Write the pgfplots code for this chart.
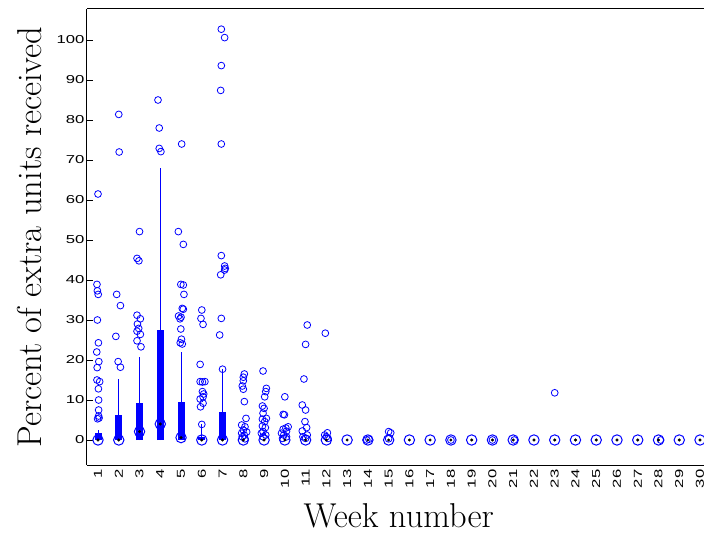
\documentclass[border=0pt]{standalone}
\usepackage{graphicx}
\usepackage{pgfplots}
\pgfplotsset{compat=1.18}
\usepackage{fontspec}
\newfontfamily\tickfont{Liberation Sans}
\newcommand\tl[1]{\scalebox{1.45}[1]{\tickfont\fontsize{11.5}{13}\selectfont #1}}
\begin{document}
\begin{tikzpicture}
\path[use as bounding box] (-87pt,-68pt) rectangle (617pt,465pt);
\clip (-87pt,-68pt) rectangle (617pt,465pt);
\begin{axis}[
  at={(0pt,0pt)}, anchor=south west,
  scale only axis,
  width=623.4pt, height=456pt,
  xmin=0.47, xmax=30.5,
  ymin=-6.25, ymax=107.75,
  axis x line*=box, axis y line*=left,
  axis line style={black, line width=1pt},
  xtick={1,...,30},
  xticklabels={\tl{1},\tl{2},\tl{3},\tl{4},\tl{5},\tl{6},\tl{7},\tl{8},\tl{9},\tl{10},
    \tl{11},\tl{12},\tl{13},\tl{14},\tl{15},\tl{16},\tl{17},\tl{18},\tl{19},\tl{20},
    \tl{21},\tl{22},\tl{23},\tl{24},\tl{25},\tl{26},\tl{27},\tl{28},\tl{29},\tl{30}},
  ytick={0,10,...,100},
  yticklabels={\tl{0},\tl{10},\tl{20},\tl{30},\tl{40},\tl{50},\tl{60},\tl{70},\tl{80},\tl{90},\tl{100}},
  tick align=inside,
  major tick length=6pt,
  major x tick style={draw=none},
  major y tick style={black, line width=0.8pt},
  xticklabel style={rotate=90, anchor=east, xshift=-1pt},
  xticklabel pos=bottom,
  yticklabel style={xshift=1pt},
  xlabel={Week number},
  ylabel={Percent of extra units received},
  xlabel style={at={(axis description cs:0.5,0)}, anchor=center, yshift=-51pt, font=\fontsize{34.5}{40}\selectfont},
  ylabel style={at={(axis description cs:0,0.5)}, anchor=center, yshift=57pt, font=\fontsize{34.5}{40}\selectfont},
  unbounded coords=jump,
  clip=false,
]
% whiskers
\addplot[blue, line width=1pt] coordinates {
(1,0) (1,2.5) (1,nan)
(2,0) (2,15.2) (2,nan)
(3,0) (3,20.8) (3,nan)
(4,0) (4,67.9) (4,nan)
(5,0) (5,22.0) (5,nan)
(6,0) (6,3.9) (6,nan)
(7,0) (7,17.7) (7,nan)
};
% boxes (q1 to q3)
\addplot[blue, line width=7pt] coordinates {
(1,0) (1,1.8) (1,nan)
(2,0) (2,6.3) (2,nan)
(3,0) (3,9.2) (3,nan)
(4,0) (4,27.5) (4,nan)
(5,0) (5,9.4) (5,nan)
(6,0) (6,0.8) (6,nan)
(7,0) (7,7.1) (7,nan)
};
% outliers
\addplot[only marks, mark=o, mark size=3.4pt, blue, mark options={line width=0.8pt}] coordinates {
(1.00,61.5) (0.95,38.9) (0.97,37.3) (1.01,36.4) (0.97,30.0) (1.02,24.3) (0.94,22.0)
(1.04,19.6) (0.96,18.1) (0.95,15.0) (1.08,14.6) (1.02,12.8) (1.03,10.0) (1.03,7.5)
(1.03,6.0) (0.98,5.3) (1.05,5.5)
(2.00,81.4) (2.02,72.0) (1.90,36.4) (2.08,33.6) (1.86,25.9) (1.97,19.6) (2.08,18.2)
(3.00,52.1) (2.88,45.4) (2.97,44.8) (2.88,31.2) (3.04,30.3) (2.90,29.0) (2.96,27.9)
(2.88,27.2) (3.04,26.4) (2.88,24.8) (3.07,23.3)
(3.89,85.0) (3.95,78.0) (3.95,72.9) (4.03,72.1)
(5.03,74.0) (4.87,52.1) (5.11,48.9) (4.99,38.9) (5.11,38.75) (5.14,36.4) (5.06,32.9)
(5.11,32.7) (4.88,31.0) (5.00,30.7) (4.95,30.3) (4.99,27.75) (5.02,25.2) (4.96,24.3) (5.06,24.0)
(6.00,32.5) (5.96,30.4) (6.06,28.9) (5.92,18.9) (5.92,14.6) (6.15,14.6) (6.03,14.5)
(6.03,12.1) (6.09,11.5) (6.06,10.8) (5.92,10.25) (6.06,9.2) (5.94,8.3) (6.00,3.9)
(6.94,102.7) (7.10,100.6) (6.94,93.6) (6.91,87.4) (6.94,74.0) (6.94,46.1) (7.10,43.5)
(7.13,42.9) (7.10,42.5) (6.91,41.3) (6.94,30.4) (6.86,26.25) (7.00,17.7)
(8.05,16.5) (8.00,15.7) (8.00,14.8) (7.95,13.5) (8.00,12.7) (8.05,9.6) (8.13,5.4)
(7.92,3.75) (8.08,3.3) (8.00,2.5) (8.16,2.0) (7.92,1.7) (8.05,1.2) (7.95,0.8) (8.08,0.3)
(8.95,17.25) (9.11,12.9) (9.08,12.1) (9.03,10.8) (8.92,8.5) (9.00,7.9) (8.95,6.7)
(9.11,5.4) (8.92,5.2) (9.03,4.6) (8.92,3.5) (9.06,3.1) (8.95,2.1) (8.87,1.7) (9.08,1.25) (8.95,0.8)
(10.00,10.8) (9.92,6.4) (9.98,6.3) (10.16,3.3) (10.05,3.0) (9.92,2.7) (10.08,2.2)
(9.84,1.7) (9.95,1.25) (10.08,0.8) (9.89,0.4)
(11.08,28.75) (11.00,23.9) (10.92,15.25) (10.84,8.75) (11.00,7.5) (10.97,4.6)
(11.05,3.1) (10.84,2.25) (11.08,1.25) (10.87,0.8) (11.00,0.4)
(11.95,26.7) (12.05,1.8) (11.92,1.25) (12.00,0.8) (12.08,0.4)
(14.05,0.2) (13.95,0.0)
(15.00,2.1) (15.10,1.8) (15.00,0.3)
(18.00,0.0) (20.00,0.0) (21.05,0.0) (23.00,11.8) (28.10,0.0)
};
% medians
\addplot[only marks, mark=o, mark size=5.2pt, blue, mark options={line width=1pt, fill=white}] coordinates {
(1,0) (2,0) (3,2.1) (4,4.0) (5,0.6) (6,0) (7,0) (8,0) (9,0) (10,0)
(11,0) (12,0) (13,0) (14,0) (15,0) (16,0) (17,0) (18,0) (19,0) (20,0)
(21,0) (22,0) (23,0) (24,0) (25,0) (26,0) (27,0) (28,0) (29,0) (30,0)
};
\addplot[only marks, mark=*, mark size=1.3pt, black] coordinates {
(1,0) (2,0) (3,2.1) (4,4.0) (5,0.6) (6,0) (7,0) (8,0) (9,0) (10,0)
(11,0) (12,0) (13,0) (14,0) (15,0) (16,0) (17,0) (18,0) (19,0) (20,0)
(21,0) (22,0) (23,0) (24,0) (25,0) (26,0) (27,0) (28,0) (29,0) (30,0)
};
\end{axis}
\end{tikzpicture}
\end{document}
